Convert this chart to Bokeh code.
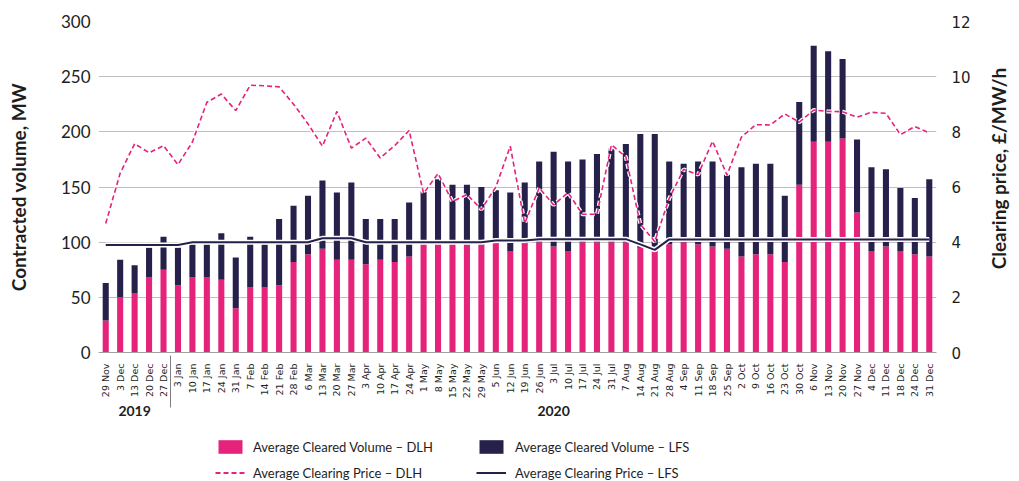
import math
from bokeh.plotting import figure
from bokeh.layouts import column, row
from bokeh.models import (FactorRange, Range1d, LinearAxis, Legend, LegendItem,
                          ColumnDataSource, FixedTicker, Label)
from bokeh.embed import file_html
from bokeh.resources import INLINE

# ---------------- data ----------------
years = ["2019"] * 5 + ["2020"] * 53
dates = ["29 Nov", "3 Dec", "13 Dec", "20 Dec", "27 Dec",
         "3 Jan", "10 Jan", "17 Jan", "24 Jan", "31 Jan",
         "7 Feb", "14 Feb", "21 Feb", "28 Feb",
         "6 Mar", "13 Mar", "20 Mar", "27 Mar",
         "3 Apr", "10 Apr", "17 Apr", "24 Apr",
         "1 May", "8 May", "15 May", "22 May", "29 May",
         "5 Jun", "12 Jun", "19 Jun", "26 Jun",
         "3 Jul", "10 Jul", "17 Jul", "24 Jul", "31 Jul",
         "7 Aug", "14 Aug", "21 Aug", "28 Aug",
         "4 Sep", "11 Sep", "18 Sep", "25 Sep",
         "2 Oct", "9 Oct", "16 Oct", "23 Oct", "30 Oct",
         "6 Nov", "13 Nov", "20 Nov", "27 Nov",
         "4 Dec", "11 Dec", "18 Dec", "24 Dec", "31 Dec"]

dlh_volume = [29, 50, 54, 68, 75,
              61, 68, 68, 66, 40,
              59, 59, 61, 82,
              89, 94, 84, 84,
              80, 84, 82, 87,
              98, 98, 98, 98, 98,
              99, 92, 99, 100,
              96, 92, 100, 100, 100,
              100, 95, 92, 98,
              100, 98, 96, 94,
              87, 89, 89, 82, 152,
              191, 191, 194, 127,
              92, 96, 92, 89, 87]

lfs_volume = [34, 34, 25, 27, 30,
              34, 30, 30, 42, 46,
              46, 39, 60, 51,
              53, 62, 61, 70,
              41, 37, 39, 49,
              48, 59, 54, 54, 52,
              48, 53, 55, 73,
              86, 81, 75, 80, 85,
              89, 103, 106, 75,
              71, 75, 77, 67,
              81, 82, 82, 60, 75,
              87, 82, 72, 66,
              76, 70, 57, 51, 70]

dlh_price = [4.68, 6.5, 7.57, 7.24, 7.5,
             6.81, 7.63, 9.07, 9.37, 8.77,
             9.69, 9.67, 9.63, 9.0,
             8.29, 7.48, 8.74, 7.41,
             7.77, 7.05, 7.5, 8.05,
             5.77, 6.49, 5.47, 5.73, 5.19,
             6.0, 7.48, 4.68, 5.97,
             5.35, 5.8, 5.01, 5.01, 7.53,
             7.09, 4.65, 4.02, 5.59,
             6.64, 6.45, 7.66, 6.43,
             7.81, 8.26, 8.25, 8.65, 8.35,
             8.79, 8.74, 8.73, 8.53,
             8.71, 8.67, 7.9, 8.19, 7.96]

lfs_price = [3.9, 3.9, 3.9, 3.9, 3.9,
             3.9, 4.0, 4.0, 4.0, 4.0,
             4.0, 4.0, 4.0, 4.0,
             4.0, 4.14, 4.14, 4.14,
             4.0, 4.0, 4.0, 4.0,
             4.0, 4.0, 4.0, 4.0, 4.0,
             4.06, 4.06, 4.06, 4.11,
             4.11, 4.11, 4.11, 4.11, 4.11,
             4.11, 3.92, 3.72, 4.1,
             4.1, 4.1, 4.1, 4.1,
             4.1, 4.1, 4.1, 4.1, 4.1,
             4.1, 4.1, 4.1, 4.1,
             4.1, 4.1, 4.1, 4.1, 4.1]

volume_ticks = [0, 50, 100, 150, 200, 250, 300]
price_ticks = [0, 2, 4, 6, 8, 10, 12]

PINK = "#E5237A"
NAVY = "#26214B"
TEXT = "#1E1E1E"
GRID = "#BFBFBF"

# ---------------- main figure ----------------
factors = list(zip(years, dates))
x_range = FactorRange(*factors, factor_padding=0, group_padding=0,
                      subgroup_padding=0, range_padding=0)

p = figure(width=985, height=425, x_range=x_range, y_range=Range1d(0, 300),
           output_backend="svg", toolbar_location=None,
           min_border_left=98, min_border_right=49,
           min_border_top=21, min_border_bottom=73)
p.outline_line_color = None
p.extra_y_ranges = {"price": Range1d(0, 12)}

src = ColumnDataSource(dict(x=factors, dlh=dlh_volume, lfs=lfs_volume,
                            pd=dlh_price, pl=lfs_price))

bars = p.vbar_stack(["dlh", "lfs"], x="x", width=0.42, source=src,
                    fill_color=[PINK, NAVY], line_color=None)

# LFS price line with white halo
p.line(x="x", y="pl", source=src, y_range_name="price",
       line_color="white", line_width=5)
p.line(x="x", y="pl", source=src, y_range_name="price",
       line_color=NAVY, line_width=2)

# DLH price dashed line with white halo
p.line(x="x", y="pd", source=src, y_range_name="price",
       line_color="white", line_width=4, line_dash="5 3")
p.line(x="x", y="pd", source=src, y_range_name="price",
       line_color=PINK, line_width=1.6, line_dash="5 3")

p.xgrid.grid_line_color = None
p.ygrid.grid_line_color = GRID
p.ygrid.grid_line_width = 1

# left axis
ya = p.yaxis[0]
ya.ticker = FixedTicker(ticks=volume_ticks)
ya.axis_line_color = None
ya.major_tick_line_color = None
ya.major_tick_out = 0
ya.major_tick_in = 0
ya.minor_tick_line_color = None
ya.major_label_text_font = "Lato"
ya.major_label_text_font_size = "17px"
ya.major_label_text_color = TEXT
ya.major_label_standoff = 8
ya.axis_label = "Contracted volume, MW"
ya.axis_label_text_font = "Lato"
ya.axis_label_text_font_style = "bold"
ya.axis_label_text_font_size = "19px"
ya.axis_label_text_color = TEXT
ya.axis_label_standoff = 28

# right axis: tick labels
ra = LinearAxis(y_range_name="price", ticker=FixedTicker(ticks=price_ticks))
ra.axis_line_color = None
ra.major_tick_line_color = None
ra.major_tick_out = 0
ra.major_tick_in = 0
ra.minor_tick_line_color = None
ra.major_label_text_font = "DejaVu Sans"
ra.major_label_text_font_size = "15px"
ra.major_label_text_color = TEXT
ra.major_label_standoff = 15
p.add_layout(ra, "right")

# bottom axis
xa = p.xaxis[0]
xa.axis_line_color = "#A0A0A0"
xa.major_tick_line_color = None
xa.minor_tick_line_color = None
xa.major_label_orientation = math.pi / 2
xa.major_label_text_font = "DejaVu Sans"
xa.major_label_text_font_size = "9.5px"
xa.major_label_text_color = TEXT
xa.major_label_standoff = 5
xa.group_text_font = "Lato"
xa.group_text_font_style = "bold"
xa.group_text_font_size = "14px"
xa.group_text_color = TEXT
xa.separator_line_color = "#808080"
xa.separator_line_width = 1

# ---------------- right title strip ----------------
rp = figure(width=34, height=425, output_backend="svg", toolbar_location=None,
            x_range=Range1d(0, 1), y_range=Range1d(0, 1),
            x_axis_location=None, y_axis_location=None,
            min_border_left=0, min_border_right=0,
            min_border_top=21, min_border_bottom=73)
rp.outline_line_color = None
rp.grid.visible = False
rp.add_layout(Label(x=13, y=184, x_units="screen", y_units="screen",
                    text="Clearing price, £/MW/h", angle=math.pi / 2,
                    text_align="center", text_baseline="middle",
                    text_font="Lato", text_font_style="bold",
                    text_font_size="19px", text_color=TEXT))

# ---------------- legend strip ----------------
# same data, drawn in a window far above the values so only the legend shows
lp = figure(width=1019, height=56, output_backend="svg", toolbar_location=None,
            x_range=x_range, y_range=Range1d(1000, 1001),
            x_axis_location=None, y_axis_location=None,
            min_border_left=98, min_border_right=0,
            min_border_top=0, min_border_bottom=0)
lp.outline_line_color = None
lp.grid.visible = False

g_dlh_vol = lp.vbar(x="x", top="dlh", source=src, width=0.42,
                    fill_color=PINK, line_color=None)
g_lfs_vol = lp.vbar(x="x", top="lfs", source=src, width=0.42,
                    fill_color=NAVY, line_color=None)
g_dlh_pr = lp.line(x="x", y="pd", source=src, line_color=PINK,
                   line_width=1.8, line_dash="5 3")
g_lfs_pr = lp.line(x="x", y="pl", source=src, line_color=NAVY, line_width=2)

common = dict(orientation="vertical", glyph_width=30, glyph_height=17,
              label_height=17, spacing=9, padding=0, margin=0,
              border_line_alpha=0, background_fill_alpha=0,
              label_text_font="Lato", label_text_font_size="13px",
              label_text_color=TEXT)
leg1 = Legend(items=[LegendItem(label="Average Cleared Volume – DLH", renderers=[g_dlh_vol]),
                     LegendItem(label="Average Clearing Price – DLH", renderers=[g_dlh_pr])],
              location=(117, 0), label_standoff=8, **common)
leg2 = Legend(items=[LegendItem(label="Average Cleared Volume – LFS", renderers=[g_lfs_vol]),
                     LegendItem(label="Average Clearing Price – LFS", renderers=[g_lfs_pr])],
              location=(378, 0), label_standoff=9, **common)
lp.add_layout(leg1)
lp.add_layout(leg2)

layout = column(row(p, rp, spacing=0), lp, spacing=0)
open("out.html", "w").write(file_html(layout, INLINE))
